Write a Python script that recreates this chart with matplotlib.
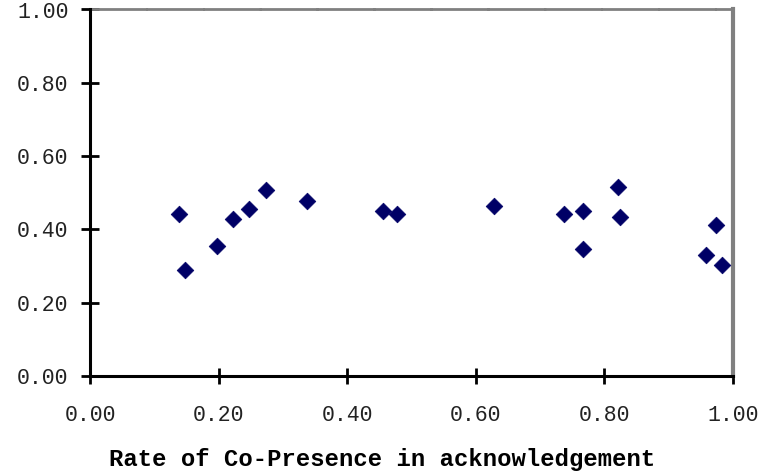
import matplotlib
matplotlib.use("Agg")
import matplotlib.pyplot as plt

# data
co_presence = [0.139, 0.148, 0.198, 0.223, 0.248, 0.273, 0.338, 0.455, 0.477,
               0.629, 0.737, 0.766, 0.766, 0.821, 0.824, 0.958, 0.974, 0.983]
rate_values = [0.443, 0.290, 0.355, 0.429, 0.456, 0.508, 0.478, 0.451, 0.443,
               0.464, 0.443, 0.451, 0.347, 0.516, 0.434, 0.331, 0.413, 0.303]
tick_values = [0.0, 0.2, 0.4, 0.6, 0.8, 1.0]
tick_labels = ["0.00", "0.20", "0.40", "0.60", "0.80", "1.00"]

MONO = ["Liberation Mono", "DejaVu Sans Mono"]
plt.rcParams["font.family"] = MONO

W, H = 764, 473
fig = plt.figure(figsize=(W / 100, H / 100), dpi=100)
ax = fig.add_axes([90 / W, (H - 376) / H, (733 - 90) / W, (376 - 9.5) / H])

ax.scatter(co_presence, rate_values, marker="D", s=72, color="#000066",
           edgecolors="#000066", linewidths=0.5, zorder=3, clip_on=False)

ax.set_xlim(0, 1)
ax.set_ylim(0, 1)
ax.set_xticks(tick_values)
ax.set_xticklabels(tick_labels)
ax.set_yticks(tick_values)
ax.set_yticklabels(tick_labels)

ax.tick_params(axis="both", direction="inout", width=2, color="black",
               labelsize=15.5, labelcolor="#222222")
ax.tick_params(axis="y", length=13, pad=9)
ax.tick_params(axis="x", length=12, pad=15)

for side in ("left", "bottom"):
    ax.spines[side].set_linewidth(2.2)
    ax.spines[side].set_color("black")
ax.spines["right"].set_linewidth(3)
ax.spines["right"].set_color("#808080")
ax.spines["top"].set_linewidth(2)
ax.spines["top"].set_color("#808080")
ax.spines["top"].set_linestyle((0, (20, 0.5)))
ax.spines["left"].set_zorder(4)

# x label sits centred on the figure, not the axes
ax.set_xlabel("Rate of Co-Presence in acknowledgement", fontsize=17.2,
              fontweight="bold")
ax.xaxis.set_label_coords(0.454, -0.197)

fig.savefig("out.png", dpi=100, facecolor="white")
